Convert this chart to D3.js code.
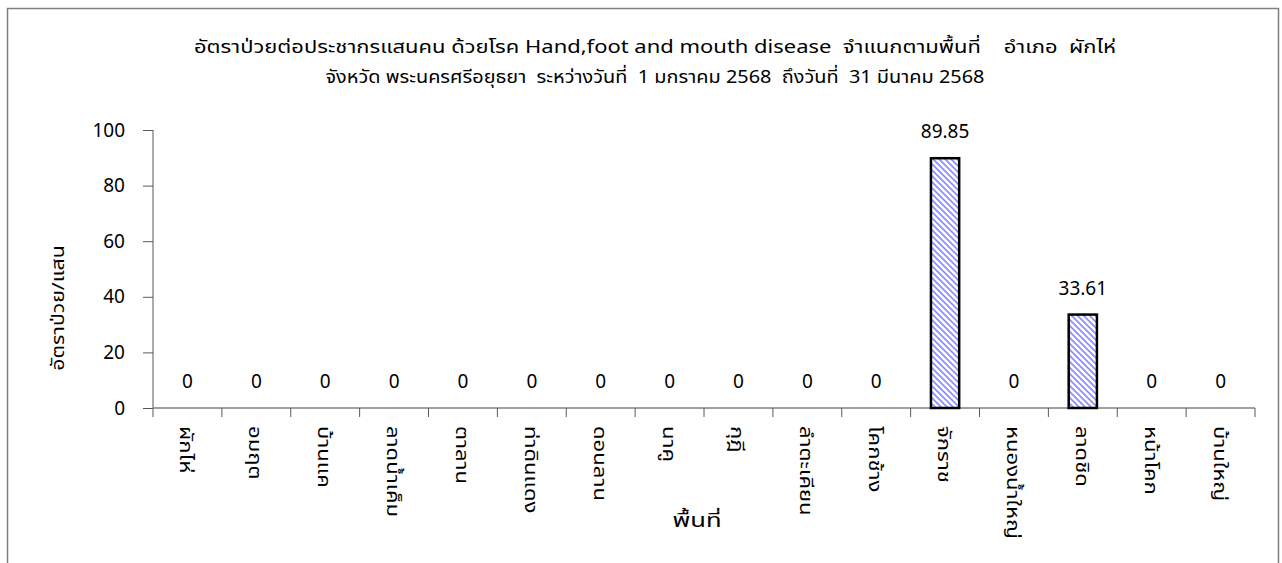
<!DOCTYPE html>
<html>
<head>
<meta charset="utf-8">
<script src="https://cdn.jsdelivr.net/npm/d3@7"></script>
<style>
  body { margin: 0; background: #fff; }
  svg text { font-family: "Noto Sans Thai", "Noto Sans", "DejaVu Sans", sans-serif; fill: #000; white-space: pre; }
</style>
</head>
<body>
<div id="wrapper"></div>
<script>
// ตำบลในอำเภอผักไห่
const areas = ["ผักไห่", "อมฤต", "บ้านแค", "ลาดน้ำเค็ม", "ตาลาน", "ท่าดินแดง", "ดอนลาน", "นาคู",
  "กุฎี", "ลำตะเคียน", "โคกช้าง", "จักราช", "หนองน้ำใหญ่", "ลาดชิด", "หน้าโคก", "บ้านใหญ่"];
const rates = [0, 0, 0, 0, 0, 0, 0, 0, 0, 0, 0, 89.85, 0, 33.61, 0, 0];
const yTicks = [0, 20, 40, 60, 80, 100];
const titleLines = [
  "อัตราป่วยต่อประชากรแสนคน ด้วยโรค Hand,foot and mouth disease  จำแนกตามพื้นที่    อำเภอ  ผักไห่",
  "จังหวัด พระนครศรีอยุธยา  ระหว่างวันที่  1 มกราคม 2568  ถึงวันที่  31 มีนาคม 2568"
];
const titleWidths = [922, 659];

function buildPlot() {
  const dimension = {
    width: 1282,
    height: 563,
    margin: { top: 130, left: 153, bottom: 155, right: 27 }
  };
  dimension.boundedWidth = dimension.width - dimension.margin.left - dimension.margin.right;
  dimension.boundedHeight = dimension.height - dimension.margin.top - dimension.margin.bottom;

  const numFont = "\"Noto Sans\", \"DejaVu Sans\", sans-serif";

  const svg = d3.select("#wrapper").append("svg")
    .attr("width", dimension.width)
    .attr("height", dimension.height);

  // ลายเส้นทแยงของแท่ง
  const defs = svg.append("defs");
  const pat = defs.append("pattern")
    .attr("id", "hatch")
    .attr("patternUnits", "userSpaceOnUse")
    .attr("width", 6).attr("height", 6);
  pat.append("rect").attr("width", 6).attr("height", 6).attr("fill", "#fff");
  pat.append("path")
    .attr("d", "M0,0 L6,6 M-1,5 L1,7 M5,-1 L7,1")
    .attr("stroke", "#8a8aff")
    .attr("stroke-width", 1.6);

  // กรอบนอก
  svg.append("rect")
    .attr("x", 7.5).attr("y", 8.5)
    .attr("width", 1271).attr("height", 600)
    .attr("fill", "none")
    .attr("stroke", "#7f7f7f")
    .attr("stroke-width", 1.5);

  // ชื่อกราฟ
  svg.selectAll(".title")
    .data(titleLines)
    .enter().append("text")
    .attr("class", "title")
    .attr("x", 655)
    .attr("y", (d, i) => 53 + i * 30)
    .attr("text-anchor", "middle")
    .attr("textLength", (d, i) => titleWidths[i])
    .attr("lengthAdjust", "spacingAndGlyphs")
    .style("font-size", "18px")
    .text(d => d);

  const xScaler = d3.scaleBand()
    .domain(areas)
    .range([dimension.margin.left, dimension.margin.left + dimension.boundedWidth]);
  const yScaler = d3.scaleLinear()
    .domain([0, 100])
    .range([dimension.margin.top + dimension.boundedHeight, dimension.margin.top]);

  const y0 = yScaler(0);

  // แกน Y
  const yAxis = svg.append("g")
    .attr("transform", `translate(${dimension.margin.left},0)`)
    .call(d3.axisLeft(yScaler).tickValues(yTicks).tickSize(10).tickPadding(18));
  yAxis.select(".domain").remove();
  yAxis.selectAll("line").attr("stroke", "#595959");
  yAxis.selectAll("text").style("font-size", "19px").style("font-family", numFont);
  svg.append("line")
    .attr("x1", dimension.margin.left).attr("x2", dimension.margin.left)
    .attr("y1", dimension.margin.top).attr("y2", y0 + 9)
    .attr("stroke", "#595959");

  // แกน X (ขีดที่เส้นแบ่งหมวด)
  svg.append("line")
    .attr("x1", dimension.margin.left)
    .attr("x2", dimension.margin.left + dimension.boundedWidth)
    .attr("y1", y0).attr("y2", y0)
    .attr("stroke", "#7f7f7f").attr("stroke-width", 1.5);
  const bounds = areas.map(a => xScaler(a) + xScaler.bandwidth());
  svg.selectAll(".xtick")
    .data(bounds)
    .enter().append("line")
    .attr("class", "xtick")
    .attr("x1", d => d).attr("x2", d => d)
    .attr("y1", y0).attr("y2", y0 + 9)
    .attr("stroke", "#595959");

  // ป้ายหมวดแนวตั้ง
  svg.selectAll(".xlab")
    .data(areas)
    .enter().append("text")
    .attr("class", "xlab")
    .attr("transform", d => `translate(${xScaler(d) + xScaler.bandwidth() / 2 - 7},${y0 + 18}) rotate(90) scale(1.3,1)`)
    .attr("text-anchor", "start")
    .style("font-size", "17px")
    .text(d => d);

  // แท่ง
  const bw = xScaler.bandwidth() * 0.41;
  svg.selectAll(".bar")
    .data(areas.map((a, i) => ({ area: a, v: rates[i] })).filter(d => d.v > 0))
    .enter().append("rect")
    .attr("class", "bar")
    .attr("x", d => xScaler(d.area) + xScaler.bandwidth() / 2 - bw / 2)
    .attr("y", d => yScaler(d.v))
    .attr("width", bw)
    .attr("height", d => y0 - yScaler(d.v))
    .attr("fill", "url(#hatch)")
    .attr("stroke", "#000")
    .attr("stroke-width", 2.5);

  // ป้ายค่า
  svg.selectAll(".val")
    .data(areas.map((a, i) => ({ area: a, v: rates[i] })))
    .enter().append("text")
    .attr("class", "val")
    .attr("x", d => xScaler(d.area) + xScaler.bandwidth() / 2)
    .attr("y", d => yScaler(d.v) - 20)
    .attr("text-anchor", "middle")
    .style("font-size", "19px")
    .style("font-family", numFont)
    .text(d => d.v);

  // ชื่อแกน
  svg.append("text")
    .attr("transform", "translate(64,308) rotate(-90) scale(1.25,1)")
    .attr("text-anchor", "middle")
    .style("font-size", "17px")
    .text("อัตราป่วย/แสน");

  svg.append("text")
    .attr("transform", "translate(697,527) scale(1.35,1)")
    .attr("text-anchor", "middle")
    .style("font-size", "19px")
    .text("พื้นที่");
}

buildPlot();
</script>
</body>
</html>
